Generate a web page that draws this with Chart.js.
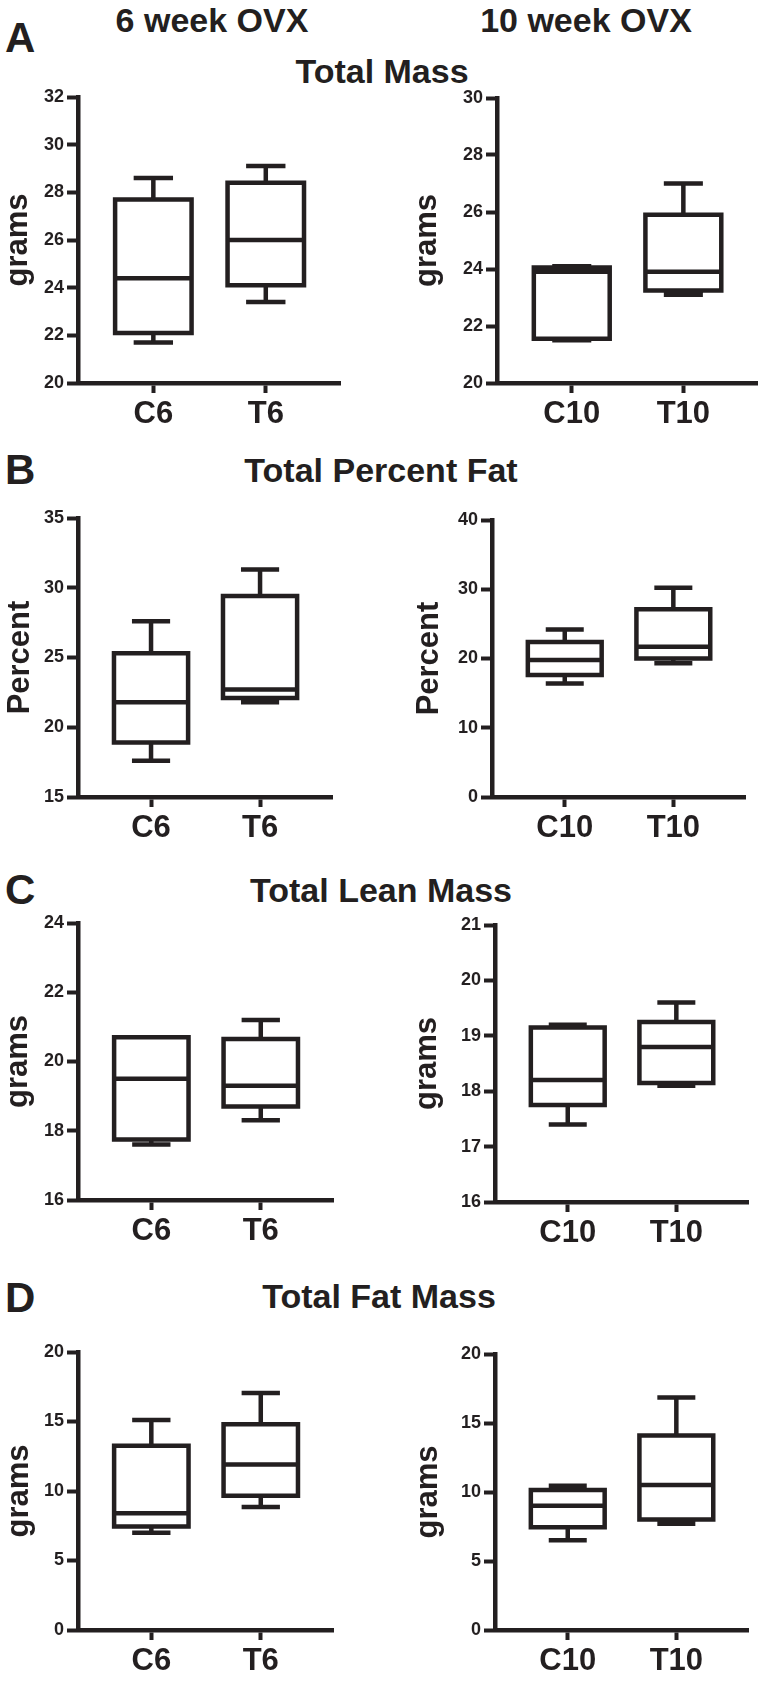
<!DOCTYPE html>
<html>
<head>
<meta charset="utf-8">
<script src="https://cdn.jsdelivr.net/npm/chart.js@4.4.1/dist/chart.umd.min.js"></script>
<style>
html,body{margin:0;padding:0;background:#fff;}
body{width:759px;height:1681px;position:relative;overflow:hidden;font-family:"Liberation Sans",Arial,Helvetica,sans-serif;color:#231f20;}
.t{position:absolute;font-weight:bold;white-space:nowrap;line-height:1;}
canvas{position:absolute;}
</style>
</head>
<body>
<script>
// ---------- DATA (box-plot stats: [min, Q1, median, Q3, max]) ----------
const cats6 = ['C6', 'T6'];
const cats10 = ['C10', 'T10'];

const massC6  = [21.7, 22.1, 24.4, 27.7, 28.6];
const massT6  = [23.4, 24.1, 26.0, 28.4, 29.1];
const massC10 = [21.5, 21.55, 23.9, 24.05, 24.1];
const massT10 = [23.1, 23.25, 23.9, 25.9, 27.0];

const pctC6  = [17.6, 18.9, 21.8, 25.3, 27.6];
const pctT6  = [21.8, 22.1, 22.7, 29.4, 31.3];
const pctC10 = [16.4, 17.6, 19.8, 22.4, 24.2];
const pctT10 = [19.3, 20.0, 21.7, 27.1, 30.2];

const leanC6  = [17.6, 17.75, 19.5, 20.7, 20.7];
const leanT6  = [18.3, 18.7, 19.3, 20.65, 21.2];
const leanC10 = [17.4, 17.75, 18.2, 19.15, 19.2];
const leanT10 = [18.1, 18.15, 18.8, 19.25, 19.6];

const fatC6  = [7.0, 7.45, 8.4, 13.25, 15.1];
const fatT6  = [8.85, 9.65, 11.9, 14.8, 17.05];
const fatC10 = [6.5, 7.45, 9.0, 10.15, 10.45];
const fatT10 = [7.7, 8.0, 10.5, 14.1, 16.85];

const yTicksMass6 = {min: 20, max: 32, step: 2};
const yTicksMass10 = {min: 20, max: 30, step: 2};
const yTicksPct6 = {min: 15, max: 35, step: 5};
const yTicksPct10 = {min: 0, max: 40, step: 10};
const yTicksLean6 = {min: 16, max: 24, step: 2};
const yTicksLean10 = {min: 16, max: 21, step: 1};
const yTicksFat = {min: 0, max: 20, step: 5};

const columnTitles = ['6 week OVX', '10 week OVX'];
const sectionTitles = ['Total Mass', 'Total Percent Fat', 'Total Lean Mass', 'Total Fat Mass'];
const panelLetters = ['A', 'B', 'C', 'D'];

// ---------- STYLE / LAYOUT ----------
const INK = '#231f20';
const FAMILY = '"Liberation Sans", Arial, Helvetica, sans-serif';
Chart.defaults.font.family = FAMILY;
Chart.defaults.color = INK;

function addText(txt, cx, baseline, size, align) {
  const d = document.createElement('div');
  d.className = 't';
  d.textContent = txt;
  d.style.fontSize = size + 'px';
  d.style.top = (baseline - 0.8465 * size) + 'px';
  if (align === 'left') { d.style.left = cx + 'px'; }
  else { d.style.left = cx + 'px'; d.style.transform = 'translateX(-50%)'; }
  document.body.appendChild(d);
}

addText(columnTitles[0], 212, 32, 34);
addText(columnTitles[1], 586, 32, 34);
const letterBaselines = [53, 485, 905, 1313];
const titleBaselines = [83, 482, 902, 1308];
const titleCenters = [382, 381, 381, 379];
for (let i = 0; i < 4; i++) {
  addText(panelLetters[i], 5, letterBaselines[i], 42, 'left');
  addText(sectionTitles[i], titleCenters[i], titleBaselines[i], 34);
}

const BOX_HALF = 0.34, CAP_HALF = 0.175;
function boxPoints(i, s) {
  const [mn, q1, md, q3, mx] = s;
  const gap = {x: i, y: null};
  return [
    {x: i, y: q1}, {x: i + BOX_HALF, y: q1}, {x: i + BOX_HALF, y: q3}, {x: i - BOX_HALF, y: q3}, {x: i - BOX_HALF, y: q1}, {x: i, y: q1}, gap,
    {x: i - BOX_HALF, y: md}, {x: i + BOX_HALF, y: md}, gap,
    {x: i, y: q3}, {x: i, y: mx}, gap,
    {x: i - CAP_HALF, y: mx}, {x: i + CAP_HALF, y: mx}, gap,
    {x: i, y: q1}, {x: i, y: mn}, gap,
    {x: i - CAP_HALF, y: mn}, {x: i + CAP_HALF, y: mn}
  ];
}

const panels = [
  {left: 0,   width: 380, axisX: 78,  endX: 340, plotTop: 97,   plotBottom: 383,  ticks: yTicksMass6,  cats: cats6,  groups: [massC6, massT6],   yTitle: 'grams',   tpad: 0},
  {left: 380, width: 379, axisX: 497, endX: 757, plotTop: 98,   plotBottom: 383,  ticks: yTicksMass10, cats: cats10, groups: [massC10, massT10], yTitle: 'grams',   tpad: 29},
  {left: 0,   width: 380, axisX: 78,  endX: 332, plotTop: 518,  plotBottom: 797,  ticks: yTicksPct6,   cats: cats6,  groups: [pctC6, pctT6],     yTitle: 'Percent', tpad: 2},
  {left: 380, width: 379, axisX: 492, endX: 745, plotTop: 520,  plotBottom: 797,  ticks: yTicksPct10,  cats: cats10, groups: [pctC10, pctT10],   yTitle: 'Percent', tpad: 31},
  {left: 0,   width: 380, axisX: 78,  endX: 333, plotTop: 923,  plotBottom: 1200, ticks: yTicksLean6,  cats: cats6,  groups: [leanC6, leanT6],   yTitle: 'grams',   tpad: 0},
  {left: 380, width: 379, axisX: 495, endX: 748, plotTop: 925,  plotBottom: 1202, ticks: yTicksLean10, cats: cats10, groups: [leanC10, leanT10], yTitle: 'grams',   tpad: 29},
  {left: 0,   width: 380, axisX: 78,  endX: 333, plotTop: 1352, plotBottom: 1630, ticks: yTicksFat,    cats: cats6,  groups: [fatC6, fatT6],     yTitle: 'grams',   tpad: 1},
  {left: 380, width: 379, axisX: 495, endX: 748, plotTop: 1354, plotBottom: 1630, ticks: yTicksFat,    cats: cats10, groups: [fatC10, fatT10],   yTitle: 'grams',   tpad: 30}
];

const PAD_TOP = 15, X_H = 50;
panels.forEach(cfg => {
  const top = cfg.plotTop - PAD_TOP;
  const height = cfg.plotBottom - cfg.plotTop + PAD_TOP + X_H;
  const canvas = document.createElement('canvas');
  canvas.width = cfg.width; canvas.height = height;
  canvas.style.left = cfg.left + 'px'; canvas.style.top = top + 'px';
  canvas.style.width = cfg.width + 'px'; canvas.style.height = height + 'px';
  document.body.appendChild(canvas);
  const yW = cfg.axisX - cfg.left;
  const padRight = cfg.left + cfg.width - cfg.endX;
  new Chart(canvas, {
    type: 'scatter',
    data: {
      datasets: cfg.groups.map((s, i) => ({
        data: boxPoints(i, s),
        showLine: true,
        borderColor: INK,
        borderWidth: 4.5,
        pointRadius: 0,
        pointHoverRadius: 0,
        tension: 0,
        fill: false,
        spanGaps: false,
        borderJoinStyle: 'miter',
        borderCapStyle: 'butt'
      }))
    },
    options: {
      responsive: false,
      animation: false,
      devicePixelRatio: 1,
      events: [],
      layout: {padding: {top: PAD_TOP, left: 0, right: padRight, bottom: 0}},
      plugins: {legend: {display: false}, tooltip: {enabled: false}},
      scales: {
        x: {
          type: 'linear',
          min: -0.67, max: 1.66,
          afterBuildTicks: s => { s.ticks = cfg.cats.map((c, i) => ({value: i})); },
          afterFit: s => { s.height = X_H; },
          ticks: {
            callback: v => cfg.cats[Math.round(v)],
            font: {size: 31, weight: 'bold'},
            color: INK, padding: 3, maxRotation: 0, autoSkip: false
          },
          grid: {display: true, drawOnChartArea: false, drawTicks: true, tickLength: 10, tickWidth: 4, tickColor: INK},
          border: {display: true, width: 4.5, color: INK}
        },
        y: {
          type: 'linear',
          min: cfg.ticks.min, max: cfg.ticks.max,
          afterFit: s => { s.width = yW; },
          ticks: {stepSize: cfg.ticks.step, font: {size: 18, weight: 'bold'}, color: INK, padding: 3},
          grid: {display: true, drawOnChartArea: false, drawTicks: true, tickLength: 11, tickWidth: 4, tickColor: INK},
          border: {display: true, width: 4.5, color: INK},
          title: {display: true, text: cfg.yTitle, font: {size: 31, weight: 'bold'}, color: INK, padding: {top: cfg.tpad, bottom: 0}}
        }
      }
    }
  });
});
</script>
</body>
</html>
